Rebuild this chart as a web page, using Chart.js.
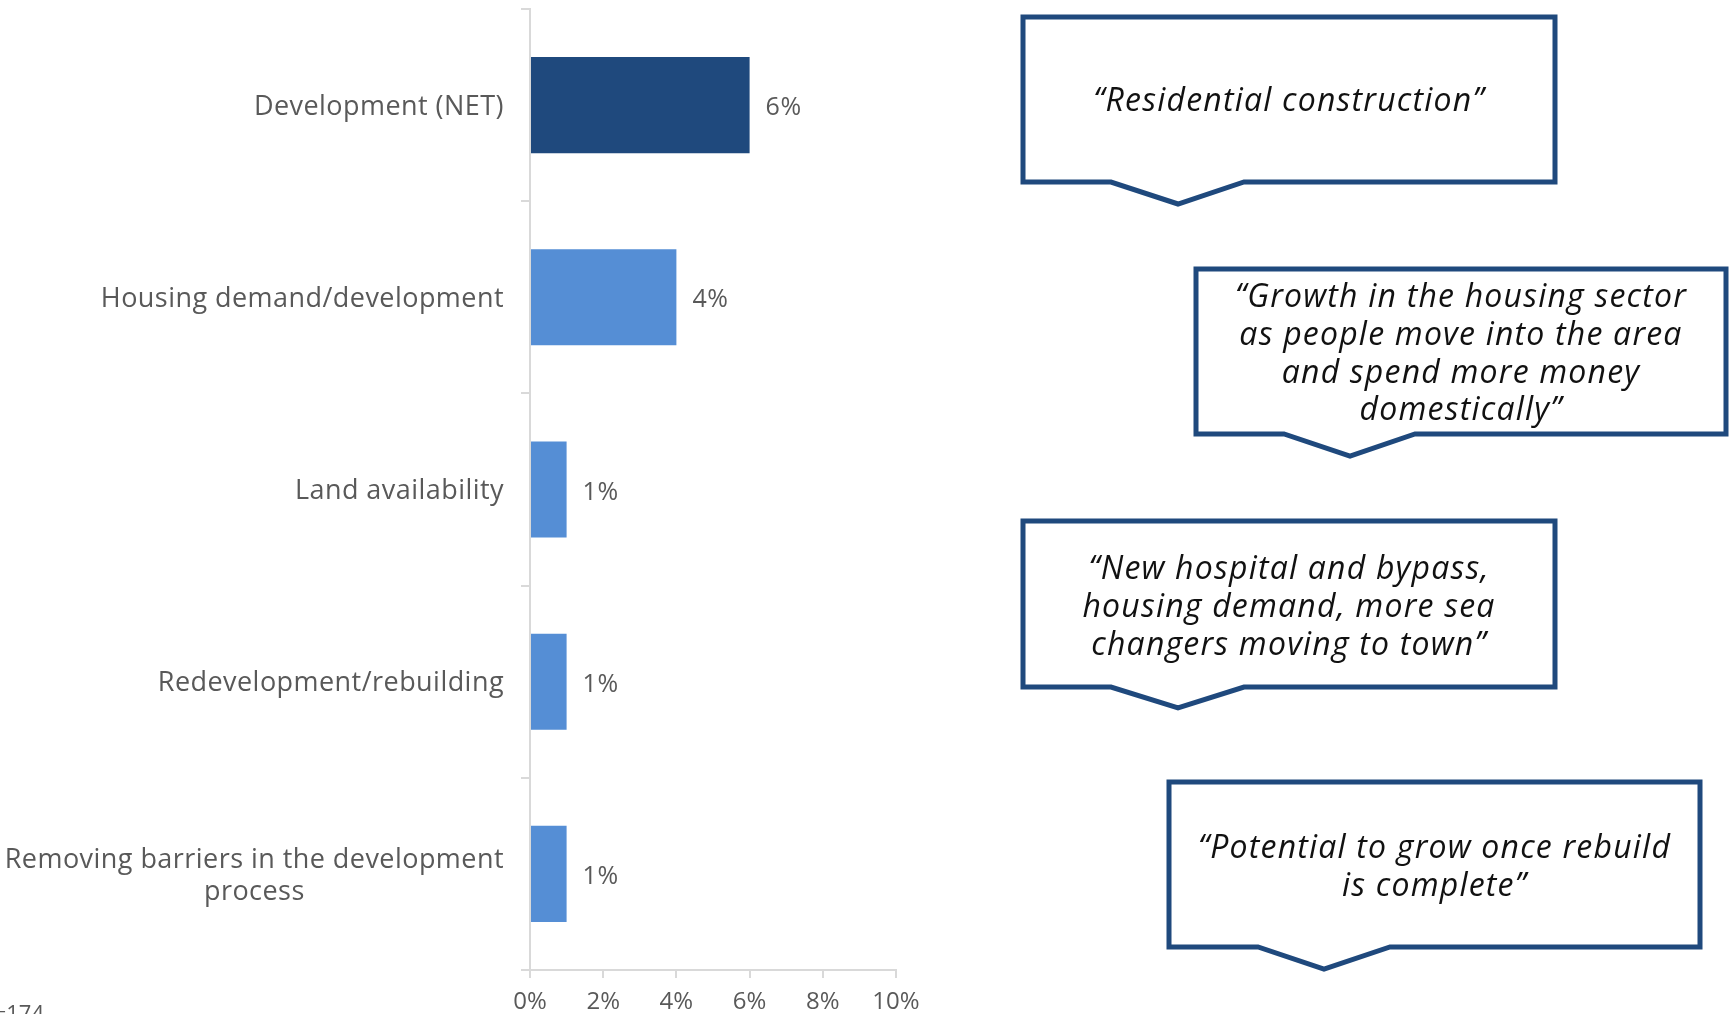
<!DOCTYPE html>
<html>
<head>
<meta charset="utf-8">
<script src="https://cdn.jsdelivr.net/npm/chart.js@4.4.1/dist/chart.umd.min.js"></script>
<style>
  html, body { margin: 0; padding: 0; background: #fff; overflow: hidden; }
  canvas { display: block; }
</style>
</head>
<body>
<canvas id="growth" width="1729" height="1014"></canvas>
<script>
// Drivers of growth: development themes, share of respondents (%)
const categories = [
  "Development (NET)",
  "Housing demand/development",
  "Land availability",
  "Redevelopment/rebuilding",
  ["Removing barriers in the development", "process"]
];
const shares = [6, 4, 1, 1, 1];
const xTickValues = [0, 2, 4, 6, 8, 10];
const sampleNote = "n=174";

// Verbatim comments shown in the speech boxes
const quotes = [
  ["\u201CResidential construction\u201D"],
  ["\u201CGrowth in the housing sector", "as people move into the area", "and spend more money", "domestically\u201D"],
  ["\u201CNew hospital and bypass,", "housing demand, more sea", "changers moving to town\u201D"],
  ["\u201CPotential to grow once rebuild", "is complete\u201D"]
];

const FONT = "'Open Sans', 'DejaVu Sans', sans-serif";
const GREY = "#595959";
const AXIS = "#d9d9d9";
const DARK = "#1F497D";
const LIGHT = "#558ED5";

// category labels, right aligned block with lines centred on each other
const categoryLabels = {
  id: "categoryLabels",
  afterDraw(chart) {
    const ctx = chart.ctx;
    const y = chart.scales.y;
    const right = 504;
    const lineH = 32;
    ctx.save();
    ctx.font = "27px " + FONT;
    ctx.letterSpacing = "0.45px";
    ctx.fillStyle = GREY;
    ctx.textAlign = "center";
    ctx.textBaseline = "middle";
    chart.data.labels.forEach((label, i) => {
      const lines = Array.isArray(label) ? label : [label];
      const w = Math.max(...lines.map(l => ctx.measureText(l).width));
      const cx = right - w / 2;
      const cy = y.getPixelForValue(i) + 2;
      lines.forEach((l, j) => {
        ctx.fillText(l, cx, cy + (j - (lines.length - 1) / 2) * lineH);
      });
    });
    ctx.restore();
  }
};

// value labels to the right of each bar
const valueLabels = {
  id: "valueLabels",
  afterDatasetsDraw(chart) {
    const ctx = chart.ctx;
    const meta = chart.getDatasetMeta(0);
    ctx.save();
    ctx.font = "25px " + FONT;
    ctx.letterSpacing = "0.5px";
    ctx.fillStyle = GREY;
    ctx.textAlign = "left";
    ctx.textBaseline = "middle";
    meta.data.forEach((bar, i) => {
      ctx.fillText(shares[i] + "%", bar.x + 16, bar.y + 3);
    });
    ctx.restore();
  }
};

// speech boxes with a pointer underneath
const boxes = [
  { l: 1023, r: 1555, t: 17, b: 182, p1: 1111, tip: 1178, tipY: 204, p2: 1244, y0: 102, lh: 38 },
  { l: 1196, r: 1726, t: 269, b: 434, p1: 1284, tip: 1350, tipY: 456, p2: 1415, y0: 298, lh: 37.7 },
  { l: 1023, r: 1555, t: 521, b: 687, p1: 1111, tip: 1178, tipY: 708, p2: 1244, y0: 570, lh: 38 },
  { l: 1169, r: 1700, t: 782, b: 947, p1: 1258, tip: 1324, tipY: 969, p2: 1390, y0: 849, lh: 37.5 }
];

const callouts = {
  id: "callouts",
  afterDraw(chart) {
    const ctx = chart.ctx;
    ctx.save();
    boxes.forEach((bx, k) => {
      ctx.beginPath();
      ctx.moveTo(bx.l, bx.t);
      ctx.lineTo(bx.r, bx.t);
      ctx.lineTo(bx.r, bx.b);
      ctx.lineTo(bx.p2, bx.b);
      ctx.lineTo(bx.tip, bx.tipY);
      ctx.lineTo(bx.p1, bx.b);
      ctx.lineTo(bx.l, bx.b);
      ctx.closePath();
      ctx.fillStyle = "#fff";
      ctx.fill();
      ctx.lineWidth = 5;
      ctx.lineJoin = "miter";
      ctx.strokeStyle = DARK;
      ctx.stroke();

      ctx.font = "italic 32px " + FONT;
      ctx.letterSpacing = "1.2px";
      ctx.fillStyle = "#111";
      ctx.textAlign = "center";
      ctx.textBaseline = "middle";
      const cx = (bx.l + bx.r) / 2;
      quotes[k].forEach((line, j) => ctx.fillText(line, cx, bx.y0 + j * bx.lh));
    });

    ctx.letterSpacing = "0px";
    ctx.font = "22px " + FONT;
    ctx.fillStyle = GREY;
    ctx.textAlign = "right";
    ctx.textBaseline = "top";
    ctx.fillText(sampleNote, 44, 1004);
    ctx.restore();
  }
};

new Chart(document.getElementById("growth"), {
  type: "bar",
  data: {
    labels: categories,
    datasets: [{
      data: shares,
      backgroundColor: c => (c.dataIndex === 0 ? DARK : LIGHT),
      barPercentage: 0.5,
      categoryPercentage: 1
    }]
  },
  options: {
    indexAxis: "y",
    responsive: false,
    animation: false,
    layout: { padding: { top: 9, right: 833, left: 0, bottom: 0 } },
    plugins: { legend: { display: false }, tooltip: { enabled: false } },
    scales: {
      x: {
        min: xTickValues[0],
        max: xTickValues[xTickValues.length - 1],
        afterBuildTicks: s => { s.ticks = xTickValues.map(v => ({ value: v })); },
        ticks: {
          callback: v => v + "%",
          color: GREY,
          font: { family: FONT, size: 24 },
          padding: 10,
          maxRotation: 0
        },
        grid: { drawOnChartArea: false, drawTicks: true, tickLength: 8, color: AXIS, lineWidth: 2 },
        border: { color: AXIS, width: 2 },
        afterFit: s => { s.height = 44; }
      },
      y: {
        ticks: { display: false },
        grid: { drawOnChartArea: false, drawTicks: true, tickLength: 9, color: AXIS, lineWidth: 2, offset: true },
        border: { color: AXIS, width: 2 },
        afterFit: s => { s.width = 530; }
      }
    }
  },
  plugins: [valueLabels, categoryLabels, callouts]
});
</script>
</body>
</html>
